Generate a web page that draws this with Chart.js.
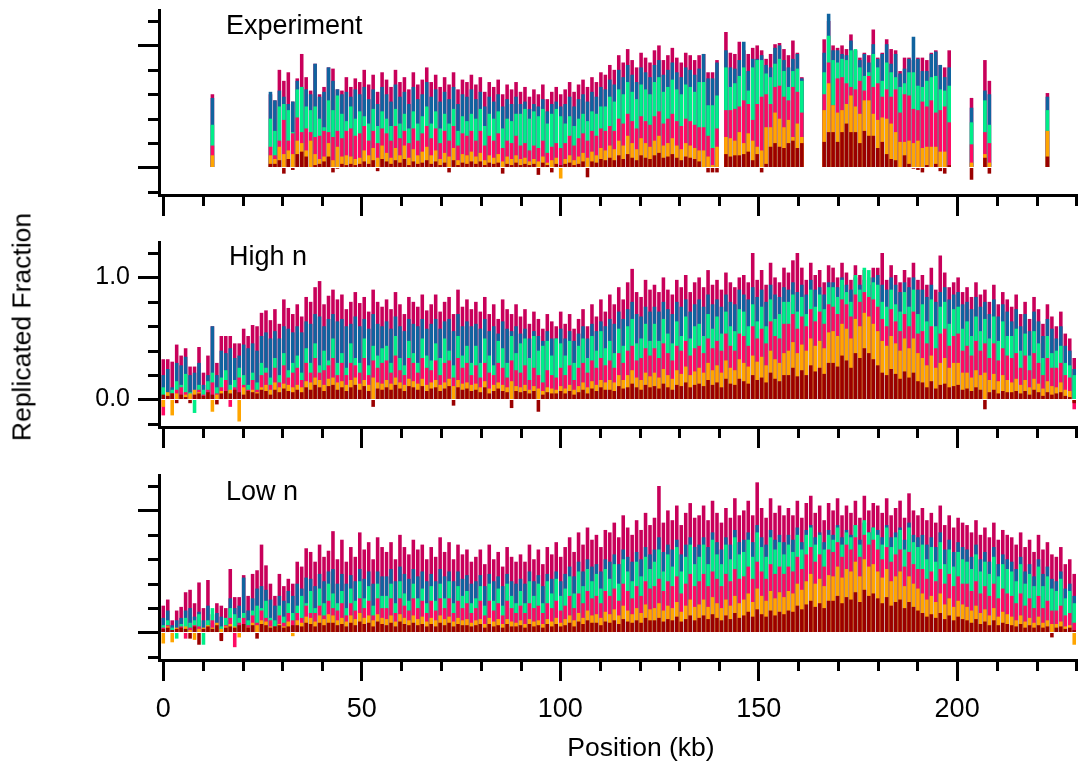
<!DOCTYPE html>
<html>
<head>
<meta charset="utf-8">
<script src="https://cdn.jsdelivr.net/npm/chart.js@4.4.1/dist/chart.umd.min.js"></script>
<style>
html,body{margin:0;padding:0;background:#fff;}
#wrap{position:relative;width:1078px;height:763px;overflow:hidden;font-family:"Liberation Sans",Arial,Helvetica,sans-serif;color:#000;background:#fff;}
canvas{position:absolute;left:0;}
.lbl{position:absolute;font-size:27px;line-height:27px;white-space:nowrap;}
#ytitle{left:22px;top:327px;font-size:26.5px;transform:translate(-50%,-50%) rotate(-90deg);}
#xtitle{left:641px;top:747px;font-size:26.5px;transform:translate(-50%,-50%);}
</style>
</head>
<body>
<div id="wrap">
<canvas id="cA" width="1078" height="232" style="top:0px;width:1078px;height:232px"></canvas>
<canvas id="cB" width="1078" height="233" style="top:232px;width:1078px;height:233px"></canvas>
<canvas id="cC" width="1078" height="298" style="top:465px;width:1078px;height:298px"></canvas>
<div class="lbl" style="left:226px;top:12px">Experiment</div>
<div class="lbl" style="left:229px;top:243px">High n</div>
<div class="lbl" style="left:226px;top:478px">Low n</div>
<div class="lbl" id="ytitle">Replicated Fraction</div>
<div class="lbl" id="xtitle">Position (kb)</div>
</div>
<script>
const _ = null;
// Bin positions (kb): 205 bins, 1.125 kb apart
const binCount = 205, binStartKb = 0, binStepKb = 1.125;
const positionsKb = Array.from({length: binCount}, (_v, i) => binStartKb + i * binStepKb);

// ---------- Experiment (t1 = earliest / dark red ... t6 = latest / crimson) ----------
const exp_t6 = [
_,_,_,_,_,_,_,_,_,_,
_,.6,_,_,_,_,_,_,_,_,
_,_,_,_,.6,.55,.8,.71,.78,.54,
.73,.93,.74,.63,.85,.6,.66,.82,.81,.64,
.63,.74,.66,.73,.7,.8,.68,.76,.62,.78,
.72,.66,.8,.7,.74,.64,.78,.68,.72,.82,
.7,.76,.66,.74,.68,.78,.64,.72,.7,.76,
.68,.74,.62,.7,.66,.72,.6,.68,.64,.7,
.62,.66,.58,.64,.6,.68,.56,.62,.66,.6,
.64,.7,.62,.68,.72,.66,.74,.7,.78,.76,
.84,.8,.92,.86,.97,.88,.82,.94,.9,.86,
.96,1.0,.88,.92,.98,.9,.86,.94,.92,.88,
.92,.93,.78,.78,.88,_,1.11,.94,.93,1.03,
.96,.93,.98,1.0,.96,.89,.93,1.01,1.02,.97,
.92,1.04,.94,.74,_,_,_,_,1.05,1.2,
1.0,.98,1.0,.97,1.09,.96,.9,.94,.92,1.13,
.9,.94,1.05,.97,.96,.79,.9,.9,.88,.9,
.9,.88,.94,.96,.84,.82,.96,_,_,_,
_,.57,_,_,.88,.71,_,_,_,_,
_,_,_,_,_,_,_,_,.61,_,
_,_,_,_,_];
const exp_t5 = [
_,_,_,_,_,_,_,_,_,_,
_,.57,_,_,_,_,_,_,_,_,
_,_,_,_,.62,.55,.63,.58,.52,.54,
.71,.66,.64,.6,.85,.58,.62,.82,.71,.64,
.6,.62,.58,.64,.6,.66,.56,.64,.52,.66,
.6,.54,.68,.58,.62,.52,.66,.56,.6,.7,
.58,.64,.54,.62,.56,.66,.52,.6,.58,.64,
.56,.62,.5,.58,.54,.6,.5,.56,.52,.58,
.52,.54,.48,.52,.5,.56,.46,.52,.54,.5,
.52,.58,.5,.56,.6,.54,.62,.58,.66,.64,
.72,.68,.8,.74,.84,.76,.7,.82,.78,.74,
.84,.88,.76,.8,.86,.78,.74,.82,.8,.76,
.81,.93,.73,.73,.86,_,.96,.82,.81,.88,
1.03,.79,.89,.89,.92,.84,.82,.98,1.0,.88,
.82,.89,.93,.73,_,_,_,_,.94,1.26,
.96,.96,.93,.92,1.04,.96,.88,.93,.86,1.01,
.89,.93,1.01,.85,.93,.77,.81,.89,1.07,.89,
.79,.79,.93,.95,.84,.74,.82,_,_,_,
_,.49,_,_,.63,.6,_,_,_,_,
_,_,_,_,_,_,_,_,.58,_,
_,_,_,_,_];
const exp_t4 = [
_,_,_,_,_,_,_,_,_,_,
_,.35,_,_,_,_,_,_,_,_,
_,_,_,_,.4,.3,.5,.52,.47,.29,
.64,.66,.5,.47,.5,.4,.33,.55,.47,.59,
.44,.38,.5,.4,.46,.42,.36,.48,.34,.46,
.4,.34,.48,.36,.44,.32,.46,.36,.42,.5,
.36,.46,.32,.44,.36,.48,.3,.42,.38,.44,
.4,.48,.34,.44,.4,.46,.32,.4,.38,.44,
.44,.48,.4,.46,.42,.48,.36,.44,.48,.42,
.36,.42,.34,.4,.44,.38,.46,.44,.5,.5,
.58,.54,.64,.6,.7,.62,.56,.68,.64,.6,
.7,.74,.62,.66,.72,.64,.6,.68,.66,.62,
.7,.7,.51,.51,.59,_,.82,.66,.69,.75,
.82,.63,.82,.88,.88,.77,.74,.85,.89,.79,
.66,.79,.81,.71,_,_,_,_,.78,1.08,
.88,.86,.89,.88,.96,.97,.82,.75,.78,.93,
.82,.71,.86,.78,.74,.66,.69,.78,.78,.67,
.66,.71,.74,.75,.64,.63,.67,_,_,_,
_,.37,_,_,.55,.35,_,_,_,_,
_,_,_,_,_,_,_,_,.47,_,
_,_,_,_,_];
const exp_t3 = [
_,_,_,_,_,_,_,_,_,_,
_,.18,_,_,_,_,_,_,_,_,
_,_,_,_,.17,.1,.22,.39,.22,.28,
.41,.29,.32,.29,.25,.26,.3,.29,.25,.3,
.24,.3,.32,.26,.28,.34,.22,.3,.2,.32,
.28,.22,.34,.24,.3,.2,.32,.22,.28,.34,
.24,.32,.2,.3,.22,.34,.18,.28,.26,.3,
.22,.3,.18,.26,.22,.28,.16,.22,.2,.26,
.18,.2,.14,.18,.16,.22,.12,.17,.2,.16,
.2,.26,.18,.24,.28,.22,.3,.26,.32,.3,
.34,.3,.4,.36,.44,.38,.32,.42,.38,.35,
.42,.46,.36,.4,.44,.38,.34,.4,.38,.35,
.33,.33,.26,.16,.32,_,.47,.47,.48,.5,
.55,.52,.39,.52,.58,.6,.52,.66,.67,.58,
.55,.66,.62,.45,_,_,_,_,.6,.86,
.51,.73,.74,.69,.66,.64,.71,.63,.75,.66,
.69,.58,.64,.58,.64,.45,.6,.59,.48,.47,
.54,.5,.55,.45,.47,.5,.37,_,_,_,
_,.19,_,_,.29,.2,_,_,_,_,
_,_,_,_,_,_,_,_,.3,_,
_,_,_,_,_];
const exp_t2 = [
_,_,_,_,_,_,_,_,_,_,
_,.1,_,_,_,_,_,_,_,_,
_,_,_,_,.1,.07,.17,.11,.14,.11,
.22,.2,.14,.22,.11,.07,.09,.2,.06,.17,
.09,.1,.09,.07,.08,.14,.1,.16,.08,.18,
.12,.08,.16,.1,.18,.08,.15,.1,.13,.17,
.1,.14,.07,.12,.09,.16,.06,.11,.1,.13,
.09,.12,.06,.1,.08,.11,.05,.09,.07,.1,
.07,.08,.05,.07,.05,.09,.04,.06,.08,-.09,
.07,.1,.06,.09,.12,.08,.13,.1,.16,.14,
.18,.15,.22,.18,.26,.2,.15,.24,.2,.17,
.22,.26,.18,.2,.24,.18,.15,.2,.18,.16,
.14,.14,.09,.02,.17,_,.25,.24,.22,.29,
.2,.28,.22,.17,.14,.33,.33,.45,.4,.33,
.39,.25,.36,.25,_,_,_,_,.47,.69,
.51,.45,.47,.52,.59,.5,.44,.55,.55,.44,
.39,.41,.4,.36,.29,.21,.21,.22,.2,.22,
.16,.17,.17,.17,.13,.13,.02,_,_,_,
_,.04,_,_,.11,.04,_,_,_,_,
_,_,_,_,_,_,_,_,.3,_,
_,_,_,_,_];
const exp_t1 = [
_,_,_,_,_,_,_,_,_,_,
_,0,_,_,_,_,_,_,_,_,
_,_,_,_,.03,.03,.06,-.05,.07,-.02,
.11,.13,.09,0,.02,.03,.05,.09,-.04,-.01,
.03,.02,.03,.02,.03,.05,.03,.06,-.03,.07,
.05,.03,.06,.04,.07,.02,.05,.03,.04,.06,
.03,.05,.02,.04,-.04,.06,.02,.04,.03,.05,
.03,.05,.02,.04,.03,.04,-.05,.03,.02,.04,
.02,.03,.02,.03,-.06,.04,.02,-.04,.03,.02,
.03,.04,.02,.03,.05,-.08,.05,.04,.07,.06,
.08,.06,.1,.07,.11,.08,.06,.1,.08,.07,
.1,.12,.08,.09,.11,.08,.06,.09,.08,.07,
.05,0,-.04,-.04,-.04,_,.11,.09,.1,.1,
.11,.13,.06,.11,-.04,.03,.17,.2,.17,.16,
.2,.22,.16,.2,_,_,_,_,.21,.29,
.29,.21,.29,.36,.29,.29,.2,.3,.26,.26,
.16,.21,.11,.07,.06,0,.1,.03,-.01,-.02,
-.04,.02,0,.03,-.03,-.05,.02,_,_,_,
_,-.1,_,_,.08,-.05,_,_,_,_,
_,_,_,_,_,_,_,_,.09,_,
_,_,_,_,_];

// ---------- High n ----------
const highN_t6 = [
.33,.33,.31,.45,.36,.42,.27,.27,.43,.22,
.36,.6,.3,.52,.52,.52,.46,.46,.58,.52,
.61,.6,.71,.73,.65,.74,.62,.82,.75,.7,
.78,.68,.84,.8,.92,.97,.78,.85,.9,.82,
.86,.74,.8,.88,.79,.84,.72,.9,.8,.76,
.82,.74,.88,.78,.7,.84,.8,.76,.86,.73,
.78,.86,.72,.8,.84,.7,.9,.76,.82,.74,
.8,.72,.84,.7,.78,.66,.82,.74,.7,.78,
.68,.74,.62,.72,.66,.58,.7,.64,.6,.72,
.62,.7,.58,.66,.74,.6,.78,.68,.82,.72,
.86,.78,.92,.82,.96,1.07,.88,.84,.98,.9,
.94,.88,1.0,.9,.86,.98,.92,1.02,.88,.96,
1.0,.92,1.06,.94,.98,.9,1.04,.96,.92,1.0,
1.02,.96,1.2,.98,1.06,.94,1.12,1.0,.96,1.08,
1.04,1.14,1.2,1.08,.98,1.12,1.02,1.06,.96,1.1,
1.08,1.0,1.12,1.04,.98,1.1,1.02,1.06,1.0,1.08,
1.08,1.2,.98,1.1,1.02,.96,1.06,1.0,1.12,.98,
1.02,.94,1.08,.9,1.18,1.04,.92,.96,1.0,.88,
.92,.84,.96,.86,.9,.8,.94,.78,.88,.82,
.76,.86,.7,.8,.66,.84,.74,.62,.78,.68,
.6,.72,.54,.5,.34];
const highN_t5 = [
.2,.25,.1,.3,.28,.35,.2,.22,.3,.12,
.2,.6,.2,.4,.38,.42,.34,.36,.45,.42,
.46,.4,.52,.55,.5,.56,.5,.6,.58,.55,
.6,.55,.64,.62,.7,.68,.6,.66,.7,.64,
.66,.6,.62,.68,.6,.66,.58,.7,.62,.6,
.64,.58,.68,.6,.56,.66,.62,.6,.66,.58,
.62,.66,.58,.64,.66,.56,.7,.6,.64,.6,
.62,.58,.66,.56,.6,.54,.64,.58,.56,.6,
.54,.58,.5,.56,.52,.48,.56,.5,.5,.58,
.5,.56,.48,.54,.6,.5,.62,.56,.64,.6,
.66,.62,.72,.66,.74,.8,.7,.68,.76,.72,
.76,.72,.8,.74,.7,.8,.76,.82,.72,.78,
.82,.76,.86,.78,.82,.76,.86,.8,.78,.9,
.86,.82,.92,.84,.9,.8,.94,.86,.84,.92,
.9,.96,.88,.94,.86,.98,.9,.92,.86,.96,
.96,.92,1.0,.94,.9,1.0,.94,.98,.94,1.0,
1.02,.94,.9,1.0,.94,.88,.96,.92,1.0,.9,
.9,.84,.94,.8,.88,.92,.82,.86,.88,.78,
.8,.74,.84,.76,.8,.7,.82,.68,.78,.72,
.64,.74,.6,.7,.56,.72,.64,.52,.66,.58,
.5,.6,.44,.4,.25];
const highN_t4 = [
.1,.05,.08,.15,.12,.21,.06,-.11,.12,.08,
.15,.22,.1,.18,.24,.12,.16,.26,.2,.12,
.22,.14,.3,.26,.18,.34,.2,.38,.24,.3,
.36,.22,.42,.3,.46,.28,.4,.32,.5,.3,
.38,.26,.46,.34,.3,.5,.28,.44,.36,.42,
.44,.3,.52,.34,.28,.48,.38,.3,.5,.36,
.32,.46,.34,.5,.4,.28,.52,.36,.44,.3,
.44,.3,.5,.36,.28,.48,.42,.3,.52,.38,
.46,.5,.34,.52,.4,.44,.48,.36,.5,.46,
.36,.48,.3,.44,.5,.34,.52,.4,.56,.42,
.48,.38,.58,.44,.6,.66,.46,.5,.62,.48,
.62,.48,.66,.54,.46,.64,.52,.68,.5,.6,
.62,.52,.7,.58,.68,.54,.72,.6,.56,.74,
.72,.6,.78,.64,.76,.6,.82,.66,.7,.8,
.8,.86,.72,.84,.7,.9,.76,.86,.74,.92,
.92,.84,.98,.88,.8,1.02,.9,1.08,1.06,.96,
.94,.8,.76,.9,.78,.72,.88,.76,.9,.7,
.78,.64,.82,.6,.76,.8,.62,.74,.76,.58,
.64,.52,.68,.56,.66,.5,.68,.48,.64,.52,
.52,.58,.4,.54,.36,.56,.46,.34,.52,.38,
.4,.44,.3,.28,.2];
const highN_t3 = [
-.13,.03,.05,.08,.1,.06,.03,.05,.08,.04,
.08,.14,.05,.1,.16,-.06,.1,.18,.12,.08,
.16,.08,.2,.22,.12,.26,.14,.28,.18,.22,
.26,.16,.3,.22,.34,.22,.24,.28,.34,.2,
.3,.2,.3,.28,.22,.34,.2,.32,.26,.3,
.32,.22,.36,.24,.2,.34,.3,.22,.34,.26,
.24,.32,.2,.3,.32,.18,.34,.26,.3,.2,
.28,.18,.3,.22,.2,.3,.26,.18,.32,.24,
.22,.28,.16,.26,.2,.14,.24,.2,.18,.26,
.2,.28,.16,.26,.3,.22,.32,.26,.34,.28,
.32,.26,.38,.3,.4,.44,.32,.34,.42,.36,
.42,.34,.46,.38,.32,.44,.4,.48,.36,.42,
.44,.38,.5,.42,.48,.4,.54,.44,.4,.54,
.52,.44,.6,.5,.58,.46,.64,.52,.5,.62,
.62,.7,.58,.68,.6,.74,.64,.72,.62,.78,
.76,.7,.82,.78,.68,.86,.8,.88,.84,.82,
.76,.66,.6,.74,.64,.56,.7,.6,.72,.54,
.56,.46,.6,.42,.54,.58,.44,.52,.54,.4,
.44,.36,.48,.4,.46,.34,.46,.32,.42,.36,
.34,.38,.26,.36,.24,.38,.3,.2,.34,.26,
.26,.3,.2,.18,-.08];
const highN_t2 = [
-.06,.06,-.13,.05,.02,.04,.05,.08,.06,.02,
.05,-.1,.04,.07,.06,.08,.05,-.18,.1,.06,
.08,.06,.1,.12,.08,.14,.1,.13,.12,.1,
.12,.1,.15,.14,.18,.16,.12,.17,.18,.14,
.15,.12,.16,.18,.13,.16,.12,.18,.14,.13,
.16,.13,.18,.14,.12,.17,.15,.13,.17,.12,
.14,.16,.12,.14,.17,.11,.16,.13,.14,.12,
.13,.1,.15,.09,.12,.14,.12,.1,.15,.11,
.1,.12,.08,.11,.09,.07,.1,.09,.08,.11,
.09,.12,.08,.11,.14,.1,.15,.12,.16,.14,
.16,.14,.2,.16,.2,.24,.18,.16,.22,.19,
.22,.18,.25,.2,.17,.24,.21,.27,.2,.23,
.26,.22,.3,.24,.28,.22,.32,.26,.24,.33,
.3,.27,.36,.31,.35,.28,.4,.33,.3,.38,
.4,.47,.38,.45,.4,.5,.44,.48,.42,.55,
.56,.52,.62,.58,.5,.66,.6,.71,.68,.62,
.56,.48,.44,.52,.46,.4,.5,.42,.5,.38,
.34,.28,.36,.26,.3,.34,.26,.3,.3,.22,
.22,.18,.24,.2,.22,.16,.21,.15,.2,.16,
.14,.17,.12,.16,.1,.17,.13,.09,.15,.11,
.1,.14,.08,.07,-.02];
const highN_t1 = [
.04,.03,.05,-.03,.04,.02,-.03,.04,.05,.03,
.06,.04,-.04,.05,.07,.05,.08,.06,.04,.07,
.06,.05,.08,.07,.04,.08,.06,.09,.07,.06,
.08,.06,.1,.08,.12,.1,.07,.11,.12,.08,
.1,.07,.1,.12,.08,.11,.07,-.06,.09,.08,
.1,.08,.12,.09,.07,.11,.1,.08,.11,.07,
.09,.1,.07,.09,.11,-.05,.1,.08,.09,.07,
.08,.06,.1,.05,.07,.09,.07,.06,-.07,.07,
.06,.07,.05,.07,-.1,.04,.06,.05,.05,.07,
.05,.07,.04,.06,.08,.05,.09,.07,.1,.08,
.08,.07,.11,.09,.1,.13,.1,.08,.12,.1,
.11,.09,.13,.1,.08,.12,.11,.14,.1,.12,
.13,.11,.16,.12,.14,.1,.17,.13,.12,.17,
.15,.13,.2,.16,.18,.14,.22,.17,.15,.2,
.2,.26,.19,.24,.2,.28,.23,.26,.21,.3,
.3,.27,.36,.32,.26,.38,.34,.42,.38,.33,
.28,.22,.2,.25,.21,.17,.23,.18,.22,.15,
.14,.1,.15,.09,.12,.13,.1,.11,.12,.08,
.09,.07,.1,.08,-.08,.06,.08,.05,.07,.06,
.06,.07,.05,.07,.04,.08,.06,.03,.06,.04,
.05,.06,.03,.02,-.03];

// ---------- Low n ----------
const lowN_t6 = [
.22,.27,.1,.18,.21,.33,.35,.24,.41,.2,
.43,.15,.24,.22,.2,.52,.29,.29,.47,.3,
.48,.51,.72,.55,.4,.3,.48,.38,.44,.4,
.58,.54,.69,.66,.58,.72,.62,.67,.83,.6,
.76,.58,.7,.62,.82,.68,.74,.6,.78,.7,
.66,.74,.6,.8,.7,.64,.76,.68,.72,.6,
.7,.62,.78,.66,.74,.6,.72,.64,.68,.58,
.62,.68,.56,.72,.6,.66,.54,.7,.62,.58,
.64,.58,.72,.6,.68,.56,.7,.64,.74,.62,
.7,.78,.66,.82,.72,.86,.76,.8,.7,.84,
.82,.9,.78,.96,.86,.8,.92,.84,.98,.88,
.94,1.2,.9,1.0,.92,1.04,.88,.98,1.06,.94,
.96,1.04,.92,1.08,.98,.9,1.02,.94,1.1,.96,
1.0,1.08,.96,1.23,1.02,.94,1.1,.98,1.04,.96,
1.02,.96,1.08,.94,1.06,1.12,.98,1.04,.92,1.06,
1.0,1.1,.96,1.04,.98,1.08,.94,1.12,1.0,1.06,
1.04,.98,1.1,.96,1.02,1.08,.94,1.14,1.0,.96,
1.02,.92,.98,.9,1.04,.88,.96,.86,.94,.9,
.88,.82,.92,.8,.86,.78,.9,.76,.84,.8,
.78,.72,.82,.7,.76,.66,.8,.68,.74,.64,
.62,.7,.56,.6,.48];
const lowN_t5 = [
.12,.18,.06,.1,.12,.18,.2,.13,.17,.1,
.22,.08,.16,.13,.1,.28,.2,.22,.45,.18,
.28,.36,.38,.35,.27,.22,.3,.26,.34,.3,
.4,.36,.45,.44,.38,.48,.42,.5,.52,.4,
.48,.4,.47,.42,.52,.44,.5,.4,.5,.46,
.46,.52,.42,.54,.48,.44,.52,.46,.5,.42,
.48,.42,.52,.46,.5,.42,.5,.44,.47,.4,
.42,.47,.38,.48,.42,.46,.38,.48,.42,.4,
.44,.4,.5,.42,.47,.38,.48,.44,.5,.42,
.48,.54,.46,.58,.5,.6,.54,.56,.5,.6,
.58,.64,.56,.68,.62,.58,.66,.6,.7,.64,
.68,.78,.66,.72,.68,.76,.64,.72,.78,.7,
.72,.78,.7,.82,.74,.68,.78,.72,.84,.74,
.76,.82,.74,.88,.78,.72,.84,.76,.8,.74,
.8,.76,.86,.74,.84,.88,.78,.82,.74,.84,
.8,.88,.78,.84,.8,.88,.76,.9,.82,.86,
.84,.78,.88,.78,.82,.86,.76,.9,.8,.78,
.8,.72,.78,.7,.82,.68,.76,.66,.74,.7,
.68,.62,.72,.6,.66,.58,.7,.56,.64,.6,
.58,.52,.62,.5,.56,.46,.6,.48,.54,.44,
.42,.5,.36,.4,.3];
const lowN_t4 = [
.06,.1,.04,-.05,.07,.12,.08,.1,.15,-.1,
.1,.2,.06,.05,.12,.2,.15,.12,.16,.1,
.18,.22,.2,.26,.12,.1,.22,.13,.24,.16,
.22,.3,.24,.34,.2,.36,.24,.4,.32,.24,
.34,.2,.36,.26,.42,.28,.38,.22,.4,.3,
.3,.4,.24,.42,.32,.26,.4,.28,.36,.24,
.38,.26,.4,.28,.42,.24,.38,.3,.34,.24,
.28,.38,.22,.4,.26,.36,.22,.4,.3,.24,
.34,.24,.42,.3,.4,.24,.42,.32,.44,.3,
.36,.46,.32,.5,.38,.52,.42,.48,.36,.52,
.44,.56,.4,.6,.5,.42,.58,.46,.62,.52,
.58,.68,.5,.64,.54,.7,.5,.62,.72,.56,
.62,.72,.56,.76,.64,.56,.72,.6,.78,.64,
.66,.76,.62,.82,.7,.62,.78,.68,.74,.64,
.72,.66,.8,.68,.8,.86,.72,.8,.68,.8,
.76,.86,.72,.82,.78,.88,.72,.92,.82,.86,
.8,.72,.86,.7,.78,.84,.68,.86,.74,.7,
.72,.6,.7,.58,.74,.56,.68,.54,.66,.6,
.58,.52,.64,.5,.58,.48,.62,.46,.56,.52,
.5,.42,.56,.4,.48,.38,.54,.38,.46,.36,
.34,.44,.28,.34,.24];
const lowN_t3 = [
.04,.06,.02,.03,.05,-.05,.04,.06,.05,.03,
.05,.1,.04,-.06,.06,.12,-.12,.08,.12,.06,
.14,.08,.18,.12,.1,.05,.14,.08,.16,.1,
.16,.12,.22,.16,.16,.22,.14,.26,.2,.18,
.24,.14,.24,.18,.28,.2,.26,.14,.28,.2,
.2,.28,.16,.28,.22,.18,.28,.2,.26,.16,
.26,.18,.28,.2,.28,.16,.26,.2,.24,.16,
.2,.26,.14,.26,.18,.24,.14,.26,.2,.16,
.22,.16,.24,.2,.22,.16,.24,.2,.26,.18,
.22,.3,.2,.32,.24,.34,.28,.3,.24,.34,
.3,.36,.26,.4,.34,.28,.38,.3,.42,.36,
.38,.44,.34,.42,.38,.46,.32,.4,.48,.38,
.42,.48,.38,.5,.44,.38,.48,.42,.52,.44,
.46,.54,.44,.58,.5,.44,.56,.48,.54,.48,
.54,.5,.62,.52,.64,.7,.58,.64,.54,.68,
.66,.74,.62,.72,.68,.78,.62,.8,.72,.76,
.68,.6,.7,.58,.64,.68,.54,.66,.56,.52,
.52,.44,.5,.42,.52,.4,.48,.38,.46,.4,
.4,.34,.42,.32,.38,.3,.4,.28,.36,.32,
.3,.24,.32,.22,.28,.2,.3,.2,.26,.18,
.18,.22,.14,.16,.08];
const lowN_t2 = [
-.09,.05,-.08,.04,.03,.05,.02,-.06,.03,.04,
.06,.04,.08,.03,.05,.07,.05,-.04,.06,.04,
.08,.06,.1,.09,.05,.04,.07,.05,.09,-.03,
.1,.08,.13,.12,.09,.14,.11,.15,.14,.1,
.12,.09,.14,.11,.16,.12,.14,.1,.15,.12,
.11,.14,.09,.15,.12,.1,.14,.11,.13,.09,
.12,.1,.14,.11,.13,.09,.12,.1,.11,.08,
.1,.11,.07,.12,.09,.11,.07,.11,.09,.08,
.1,.07,.11,.09,.1,.07,.11,.09,.12,.08,
.11,.14,.1,.16,.12,.18,.14,.15,.12,.17,
.15,.19,.14,.22,.18,.15,.2,.16,.23,.19,
.2,.24,.18,.22,.2,.25,.17,.22,.27,.21,
.23,.27,.21,.29,.24,.2,.27,.22,.3,.24,
.27,.32,.25,.36,.3,.26,.34,.28,.33,.29,
.34,.32,.4,.35,.42,.48,.4,.44,.38,.47,
.46,.54,.45,.52,.5,.58,.46,.6,.54,.56,
.5,.45,.52,.42,.46,.5,.38,.46,.4,.36,
.32,.27,.3,.25,.32,.23,.28,.21,.26,.23,
.21,.18,.22,.16,.19,.14,.2,.13,.17,.15,
.13,.1,.14,.09,.12,.08,.13,.08,.1,.07,
.07,.09,.05,.06,-.1];
const lowN_t1 = [
.03,.04,.02,.03,.04,.03,-.05,.05,-.1,.03,
.05,.03,.06,-.07,.04,.05,.04,.06,.07,.04,
.06,-.05,.07,.06,.04,.05,.06,.04,.05,.06,
.06,.05,.08,.07,.05,.08,.06,.08,.08,.06,
.07,.05,.08,.06,.09,.07,.08,.05,.09,.07,
.06,.08,.05,.09,.07,.06,.08,.06,.07,.05,
.07,.05,.08,.06,.08,.05,.07,.06,.06,.05,
.06,.07,.04,.07,.05,.06,.04,.07,.05,.05,
.06,.04,.07,.05,.06,.04,.07,.05,.07,.05,
.06,.08,.05,.09,.07,.1,.08,.08,.06,.09,
.08,.1,.07,.11,.09,.08,.1,.08,.12,.1,
.1,.12,.09,.11,.1,.13,.09,.11,.14,.1,
.12,.14,.11,.15,.12,.1,.14,.11,.16,.12,
.14,.17,.13,.19,.15,.13,.18,.14,.17,.15,
.18,.17,.22,.19,.23,.26,.21,.24,.2,.26,
.26,.3,.24,.29,.27,.33,.25,.35,.3,.32,
.28,.24,.29,.22,.25,.27,.2,.25,.21,.18,
.16,.13,.15,.12,.16,.11,.14,.1,.13,.11,
.1,.08,.11,.07,.09,.06,.1,.06,.08,.07,
.06,.05,.07,.04,.06,.04,.06,.04,.05,-.04,
.04,.05,.03,.04,.02];

// ---------- Axes ----------
const xMinKb = -1.08, xMaxKb = 230.2, xTickStepKb = 10, xLabelStepKb = 50;
const yMin = -0.225, yMax = 1.29, yTickStep = 0.2;
const yLabelled = {0: '0.0', 1: '1.0'};

// Drawing order: first dataset is drawn on top
const LAYER_COLORS = ['#9A0000', '#FFA500', '#FF0A64', '#00EE88', '#10639F', '#C8005A'];
const FONT_FAMILY = "'Liberation Sans', Arial, Helvetica, sans-serif";
const AXIS_W = 3;

const isMajorX = v => Math.abs(v % xLabelStepKb) < 1e-6;
const isMajorY = v => Math.abs(v) < 1e-6 || Math.abs(v - 1) < 1e-6;

const minorTicks = {
  id: 'minorTicks',
  afterDraw(chart) {
    const ctx = chart.ctx, a = chart.chartArea, xs = chart.scales.x, ys = chart.scales.y;
    ctx.save();
    ctx.strokeStyle = '#000';
    ctx.lineWidth = AXIS_W;
    ys.ticks.forEach(t => {
      if (isMajorY(t.value)) return;
      const py = Math.round(ys.getPixelForValue(t.value)) + 0.5;
      ctx.beginPath(); ctx.moveTo(a.left - 11, py); ctx.lineTo(a.left, py); ctx.stroke();
    });
    xs.ticks.forEach(t => {
      if (isMajorX(t.value)) return;
      const px = Math.round(xs.getPixelForValue(t.value)) + 0.5;
      ctx.beginPath(); ctx.moveTo(px, a.bottom); ctx.lineTo(px, a.bottom + 11); ctx.stroke();
    });
    ctx.restore();
  }
};

function makePanel(canvasId, layers, xAxisHeight, showX, showY) {
  const datasets = layers.map((vals, k) => ({
    data: positionsKb.map((x, i) => ({x: x, y: vals[i]})),
    backgroundColor: LAYER_COLORS[k],
    borderWidth: 0,
    grouped: false,
    barPercentage: 0.8,
    categoryPercentage: 1.0
  }));
  return new Chart(document.getElementById(canvasId), {
    type: 'bar',
    data: {datasets: datasets},
    plugins: [minorTicks],
    options: {
      responsive: false,
      animation: false,
      devicePixelRatio: 1,
      layout: {padding: {top: 10, right: 1, left: 0, bottom: 0}},
      plugins: {legend: {display: false}, tooltip: {enabled: false}},
      scales: {
        x: {
          type: 'linear', min: xMinKb, max: xMaxKb, offset: false,
          grid: {display: true, drawOnChartArea: false, drawTicks: true, offset: false,
                 tickLength: 21, tickWidth: AXIS_W,
                 tickColor: c => (c.tick && isMajorX(c.tick.value)) ? '#000' : 'rgba(0,0,0,0)'},
          border: {display: true, color: '#000', width: AXIS_W},
          ticks: {stepSize: xTickStepKb, autoSkip: false, maxRotation: 0, minRotation: 0,
                  includeBounds: false, padding: 12, color: '#000',
                  font: {size: 27, family: FONT_FAMILY},
                  callback: v => (showX && isMajorX(v)) ? String(Math.round(v)) : ''},
          afterFit: s => { s.height = xAxisHeight; s.paddingLeft = 0; s.paddingRight = 0; }
        },
        y: {
          type: 'linear', min: yMin, max: yMax,
          grid: {display: true, drawOnChartArea: false, drawTicks: true,
                 tickLength: 21, tickWidth: AXIS_W,
                 tickColor: c => (c.tick && isMajorY(c.tick.value)) ? '#000' : 'rgba(0,0,0,0)'},
          border: {display: true, color: '#000', width: AXIS_W},
          ticks: {stepSize: yTickStep, autoSkip: false, includeBounds: false, padding: 8, color: '#000',
                  font: {size: 25, family: FONT_FAMILY},
                  callback: v => {
                    if (!showY) return '';
                    if (Math.abs(v) < 1e-6) return yLabelled[0];
                    if (Math.abs(v - 1) < 1e-6) return yLabelled[1];
                    return '';
                  }},
          afterFit: s => { s.width = 159; s.paddingTop = 0; s.paddingBottom = 0; }
        }
      }
    }
  });
}

makePanel('cA', [exp_t1, exp_t2, exp_t3, exp_t4, exp_t5, exp_t6], 37, false, false);
makePanel('cB', [highN_t1, highN_t2, highN_t3, highN_t4, highN_t5, highN_t6], 38, false, true);
makePanel('cC', [lowN_t1, lowN_t2, lowN_t3, lowN_t4, lowN_t5, lowN_t6], 103, true, false);
</script>
</body>
</html>
